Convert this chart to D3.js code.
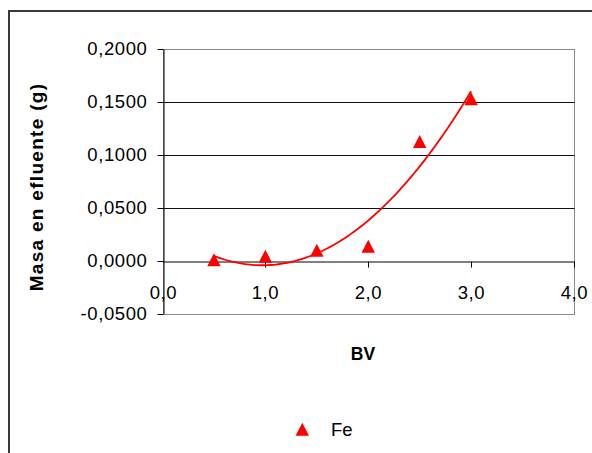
<!DOCTYPE html>
<html>
<head>
<meta charset="utf-8">
<script src="https://cdn.jsdelivr.net/npm/d3@7"></script>
<style>
  body { margin: 0; background: #fff; }
  svg { display: block; }
  text { font-family: "Liberation Sans", Arial, sans-serif; fill: #000; }
</style>
</head>
<body>
<svg id="chart" width="592" height="453"></svg>
<script>
// Bed volumes and iron mass measured in the effluent
const bvValues = [0.5, 1.0, 1.5, 2.0, 2.5, 3.0];
const feMass = [0.0008, 0.0042, 0.0098, 0.0136, 0.1125, 0.1530];
const xTicks = [0, 1, 2, 3, 4];
const yTicks = [-0.05, 0, 0.05, 0.10, 0.15, 0.20];
const seriesName = "Fe";
const xTitle = "BV";
const yTitle = "Masa en efluente (g)";
const trendOrder = 2; // polynomial trendline order

const svg = d3.select("#chart");
const W = 592, H = 453;
const plot = { left: 162.5, right: 574, top: 49, bottom: 313.5 };

const locale = d3.formatLocale({ decimal: ",", thousands: ".", grouping: [3], currency: ["", "€"], minus: "-" });
const fmtY = locale.format(".4f");
const fmtX = locale.format(".1f");

const x = d3.scaleLinear().domain([0, 4]).range([plot.left, plot.right]);
const y = d3.scaleLinear().domain([-0.05, 0.20]).range([plot.bottom, plot.top]);
const crisp = v => Math.round(v) + 0.5;

// Outer chart frame
svg.append("rect")
  .attr("x", 9).attr("y", 11)
  .attr("width", W + 20).attr("height", H + 20)
  .attr("fill", "none").attr("stroke", "#3a3a3a").attr("stroke-width", 2);

// Plot area border
svg.append("rect")
  .attr("x", crisp(plot.left)).attr("y", crisp(plot.top))
  .attr("width", crisp(plot.right) - crisp(plot.left))
  .attr("height", crisp(plot.bottom) - crisp(plot.top))
  .attr("fill", "none").attr("stroke", "#8a8a8a").attr("stroke-width", 1);

// Horizontal gridlines
svg.append("g")
  .selectAll("line")
  .data(yTicks.filter(v => v > 0 && v < 0.2))
  .join("line")
  .attr("x1", crisp(plot.left)).attr("x2", crisp(plot.right))
  .attr("y1", d => crisp(y(d))).attr("y2", d => crisp(y(d)))
  .attr("stroke", "#111").attr("stroke-width", 1.1);

// Y axis
const yAxis = svg.append("g")
  .attr("transform", `translate(${crisp(plot.left)},0)`)
  .call(d3.axisLeft(y).tickValues(yTicks).tickFormat(fmtY).tickSize(6).tickPadding(10).tickSizeOuter(0))
  .call(g => g.selectAll(".tick").attr("transform", d => `translate(0,${crisp(y(d))})`));
yAxis.select(".domain").attr("stroke", "#000");
yAxis.selectAll(".tick line").attr("stroke", "#000");
yAxis.selectAll(".tick text")
  .attr("font-size", 18.5).attr("letter-spacing", "0.6px")
  .attr("font-family", "Liberation Sans, Arial, sans-serif").attr("fill", "#000");

// X axis along the zero line
const xAxis = svg.append("g")
  .attr("transform", `translate(0,${crisp(y(0))})`)
  .call(d3.axisBottom(x).tickValues(xTicks).tickFormat(fmtX).tickSize(6).tickSizeOuter(0))
  .call(g => g.selectAll(".tick").attr("transform", d => `translate(${crisp(x(d))},0)`));
xAxis.select(".domain").attr("stroke", "#000");
xAxis.selectAll(".tick line").attr("stroke", "#000").attr("stroke-width", d => d === 0 ? 0 : 1);
xAxis.selectAll(".tick text")
  .attr("y", 37).attr("dy", null)
  .attr("font-size", 18.5).attr("letter-spacing", "0.6px")
  .attr("font-family", "Liberation Sans, Arial, sans-serif").attr("fill", "#000");

// Least-squares polynomial trendline through the measured points
function polyFit(xs, ys, order) {
  const n = order + 1;
  const A = Array.from({ length: n }, () => new Array(n + 1).fill(0));
  xs.forEach((xv, k) => {
    for (let i = 0; i < n; i++) {
      for (let j = 0; j < n; j++) A[i][j] += Math.pow(xv, i + j);
      A[i][n] += ys[k] * Math.pow(xv, i);
    }
  });
  for (let c = 0; c < n; c++) {
    let p = c;
    for (let r = c + 1; r < n; r++) if (Math.abs(A[r][c]) > Math.abs(A[p][c])) p = r;
    [A[c], A[p]] = [A[p], A[c]];
    for (let r = 0; r < n; r++) {
      if (r === c) continue;
      const f = A[r][c] / A[c][c];
      for (let k = c; k <= n; k++) A[r][k] -= f * A[c][k];
    }
  }
  return A.map((row, i) => row[n] / row[i]);
}
const coef = polyFit(bvValues, feMass, trendOrder);
const trendAt = v => coef.reduce((s, c, i) => s + c * Math.pow(v, i), 0);
const [xMin, xMax] = d3.extent(bvValues);
const trendPts = d3.range(0, 101).map(i => {
  const v = xMin + (xMax - xMin) * i / 100;
  return [v, trendAt(v)];
});

const plotG = svg.append("g");
plotG.append("path")
  .datum(trendPts)
  .attr("fill", "none").attr("stroke", "#ff0000").attr("stroke-width", 1.8)
  .attr("d", d3.line().x(d => x(d[0])).y(d => y(d[1])));

// Triangle markers
const tri = (cx, cy, w = 13.4, h = 13) =>
  `M${cx - w / 2},${cy + h / 2}L${cx + w / 2},${cy + h / 2}L${cx},${cy - h / 2}Z`;

plotG.selectAll("path.pt")
  .data(bvValues.map((b, i) => [b, feMass[i]]))
  .join("path")
  .attr("class", "pt")
  .attr("fill", "#ff0000")
  .attr("d", d => tri(x(d[0]), y(d[1])));

// Axis titles
svg.append("text")
  .attr("x", 363).attr("y", 359.5)
  .attr("text-anchor", "middle")
  .attr("font-size", 17.5).attr("font-weight", "bold")
  .text(xTitle);

svg.append("text")
  .attr("transform", "translate(43.3,187) rotate(-90)")
  .attr("text-anchor", "middle")
  .attr("font-size", 19).attr("font-weight", "bold").attr("letter-spacing", "1.3px")
  .text(yTitle);

// Legend
const legend = svg.append("g");
legend.append("path").attr("fill", "#ff0000").attr("d", tri(302.3, 429.3));
legend.append("text")
  .attr("x", 331).attr("y", 436)
  .attr("font-size", 18.5)
  .text(seriesName);
</script>
</body>
</html>
